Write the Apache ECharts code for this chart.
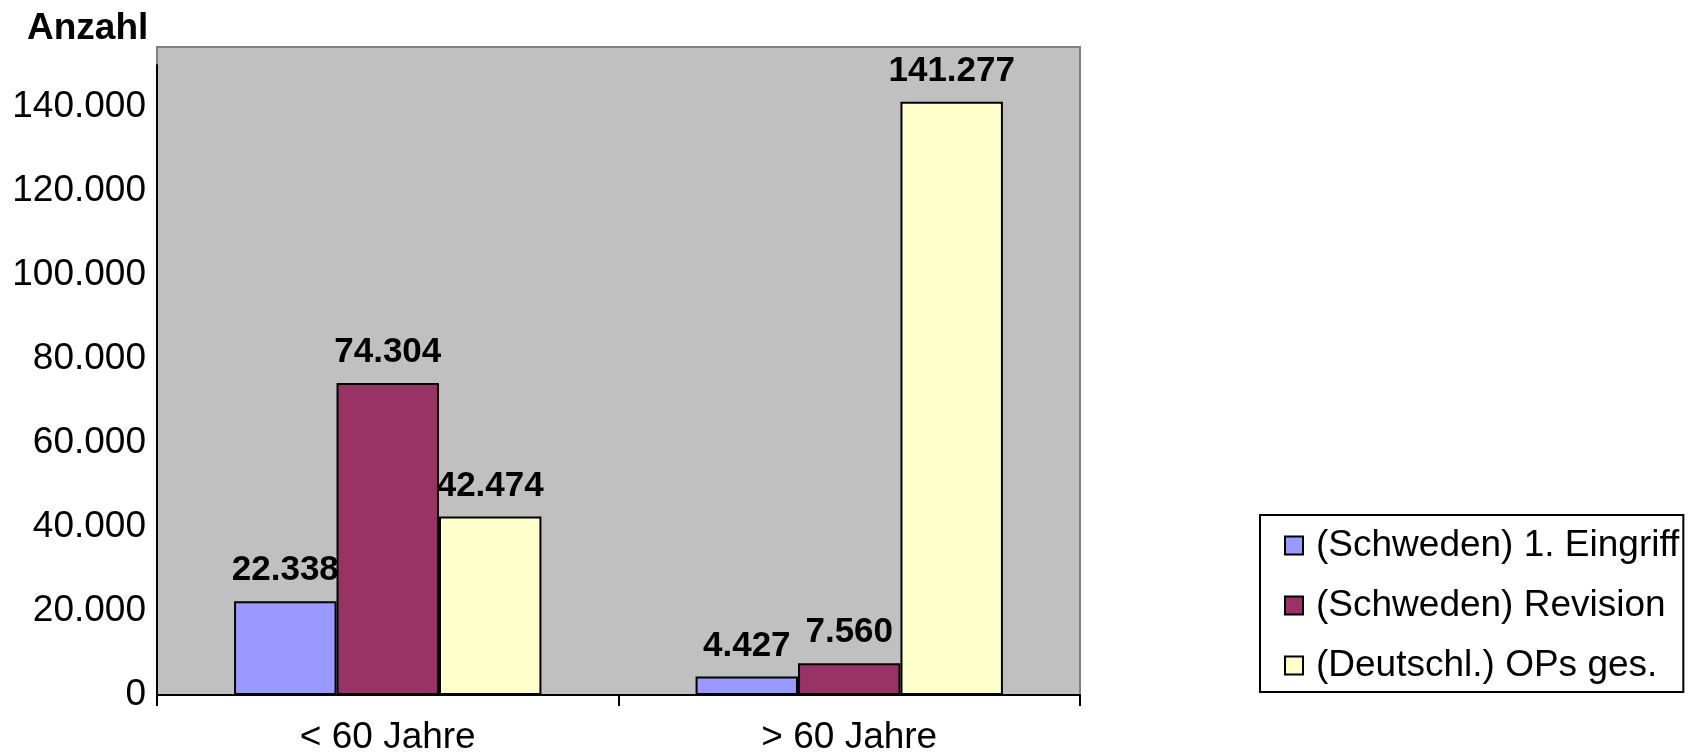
<!DOCTYPE html>
<html>
<head>
<meta charset="utf-8">
<script src="https://cdn.jsdelivr.net/npm/echarts@6/dist/echarts.min.js"></script>
<style>
  html, body { margin: 0; padding: 0; background: #fff; }
  #main { width: 1699px; height: 752px; }
</style>
</head>
<body>
<div id="main"></div>
<script>
// Werte aus der Vorlage
var categories = ['< 60 Jahre', '> 60 Jahre'];
var erstEingriff = [22338, 4427];
var revision = [74304, 7560];
var opsGesamt = [42474, 141277];
var seriesNames = ['(Schweden) 1. Eingriff', '(Schweden) Revision', '(Deutschl.) OPs ges.'];

function fmt(v) {
  return String(v).replace(/\B(?=(\d{3})+(?!\d))/g, '.');
}

var font = 'Liberation Sans, Arial, Helvetica, sans-serif';

function bar(name, data, color) {
  return {
    name: name,
    type: 'bar',
    xAxisIndex: 1,
    yAxisIndex: 1,
    data: data,
    barGap: '0%',
    barCategoryGap: '33.4%',
    itemStyle: { color: color, borderColor: '#000', borderWidth: 2 },
    label: {
      show: true,
      position: 'top',
      distance: 13,
      color: '#000',
      fontFamily: font,
      fontWeight: 'bold',
      fontSize: 35,
      formatter: function (p) { return fmt(p.value); }
    }
  };
}

var myChart = echarts.init(document.getElementById('main'));
myChart.setOption({
  animation: false,
  title: {
    text: 'Anzahl',
    left: 22,
    top: 5,
    textStyle: { fontFamily: font, fontWeight: 'bold', fontSize: 37, color: '#000' }
  },
  grid: [
    { left: 157, right: 619, top: 47, bottom: 57, show: true, outerBoundsMode: 'none',
      backgroundColor: '#c0c0c0', borderColor: '#808080', borderWidth: 2 },
    { left: 157, right: 619, top: 65, bottom: 57, outerBoundsMode: 'none' }
  ],
  legend: {
    orient: 'vertical',
    left: 1260,
    top: 515,
    backgroundColor: '#fff',
    borderColor: '#000',
    borderWidth: 2,
    borderRadius: 0,
    padding: [12, 4, 8, 24],
    icon: 'rect',
    itemWidth: 18,
    itemHeight: 18,
    itemGap: 23,
    textStyle: { fontFamily: font, fontSize: 37, color: '#000', padding: [0, 0, 0, 8] },
    data: seriesNames
  },
  xAxis: [
    { gridIndex: 0, type: 'category', data: categories, show: false },
    {
      gridIndex: 1,
      type: 'category',
      data: categories,
      boundaryGap: true,
      axisLine: { lineStyle: { color: '#000', width: 2 } },
      axisTick: { show: true, length: 11, lineStyle: { color: '#000', width: 2 } },
      axisLabel: { margin: 24, color: '#000', fontFamily: font, fontSize: 37 }
    }
  ],
  yAxis: [
    { gridIndex: 0, type: 'value', show: false, splitLine: { show: false } },
    {
      gridIndex: 1,
      type: 'value',
      min: 0,
      max: 150000,
      interval: 20000,
      axisLine: { show: true, lineStyle: { color: '#000', width: 2 } },
      axisTick: { show: false },
      splitLine: { show: false },
      axisLabel: {
        showMaxLabel: false,
        margin: 11,
        color: '#000',
        fontFamily: font,
        fontSize: 37,
        formatter: function (v) { return fmt(v); }
      }
    }
  ],
  series: [
    bar(seriesNames[0], erstEingriff, '#9999ff'),
    bar(seriesNames[1], revision, '#993366'),
    bar(seriesNames[2], opsGesamt, '#ffffcc')
  ]
});
</script>
</body>
</html>
